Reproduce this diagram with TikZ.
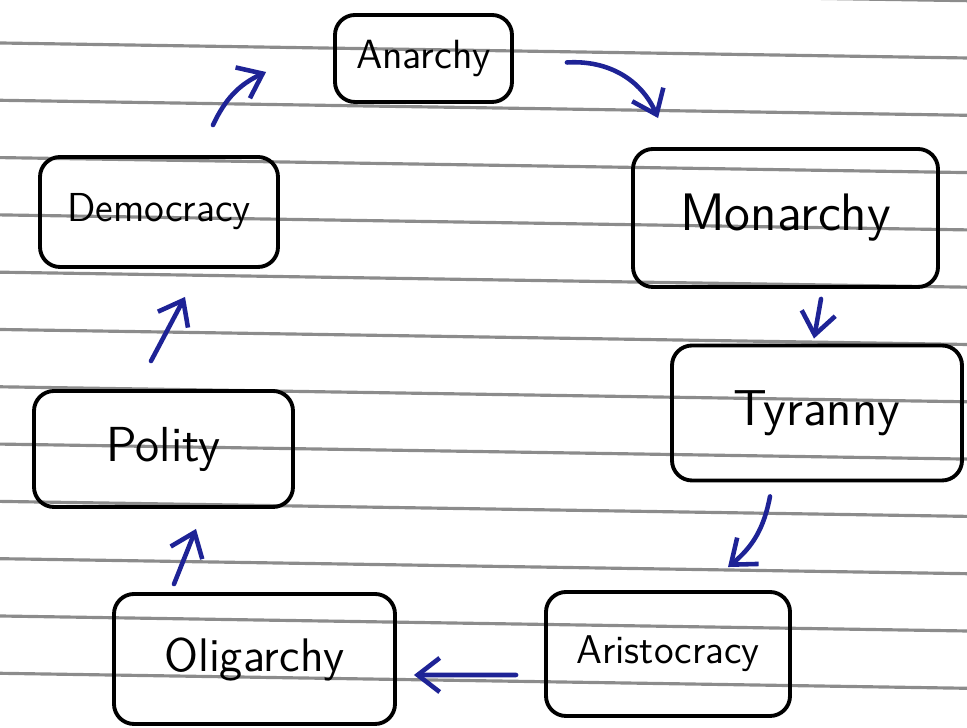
\documentclass[tikz,border=0pt]{standalone}
\usepackage{xcolor}
\usepackage{tikz}
\usetikzlibrary{arrows.meta}
\definecolor{inkblue}{HTML}{1E2396}
\definecolor{ruleline}{HTML}{8C8C8C}
\newcommand{\handsize}[1]{\fontsize{#1}{#1}\selectfont}

\begin{document}
\begin{tikzpicture}[
    box/.style={draw, line width=1.1pt, rounded corners=2mm, inner sep=0pt},
    flow/.style={inkblue, line width=1.3pt, line cap=round, -{Straight Barb[length=2.2mm, width=3.4mm]}},
    rule/.style={ruleline, line width=0.9pt},
  ]
  \useasboundingbox (0,0) rectangle (9.67,7.28);
  % ruled paper
  \begin{scope}
    \clip (0,0) rectangle (9.67,7.28);
    \foreach \k in {-1,...,12} {
      \draw[rule] (0,{6.85-0.573*(\k)}) -- (9.67,{6.70-0.573*(\k)});
    }
  \end{scope}
  % boxes
  \node[box, minimum width=1.77cm, minimum height=0.87cm, font=\sffamily\handsize{11.6}] (anarchy) at (4.235,6.695) {Anarchy};
  \node[box, minimum width=3.05cm, minimum height=1.38cm, font=\sffamily\handsize{15}] (monarchy) at (7.855,5.10) {Monarchy};
  \node[box, minimum width=2.90cm, minimum height=1.35cm, font=\sffamily\handsize{14.4}] (tyranny) at (8.17,3.15) {Tyranny};
  \node[box, minimum width=2.44cm, minimum height=1.24cm, font=\sffamily\handsize{11.4}] (aristocracy) at (6.68,0.74) {Aristocracy};
  \node[box, minimum width=2.81cm, minimum height=1.30cm, font=\sffamily\handsize{13.4}] (oligarchy) at (2.545,0.69) {Oligarchy};
  \node[box, minimum width=2.59cm, minimum height=1.16cm, font=\sffamily\handsize{14}] (polity) at (1.635,2.79) {Polity};
  \node[box, minimum width=2.38cm, minimum height=1.10cm, font=\sffamily\handsize{11.5}] (democracy) at (1.59,5.16) {Democracy};
  % cycle arrows
  \draw[flow] ([shift={(0.53,-0.04)}]anarchy.east) to[bend left=35] ([shift={(0.27,0.29)}]monarchy.north west);
  \draw[flow] ([shift={(0.355,-0.10)}]monarchy.south) -- ([shift={(-0.03,0.05)}]tyranny.north);
  \draw[flow] ([shift={(-0.47,-0.14)}]tyranny.south) to[bend left=20] ([shift={(0.60,0.23)}]aristocracy.north);
  \draw[flow] ([shift={(-0.28,-0.21)}]aristocracy.west) -- ([shift={(0.17,-0.16)}]oligarchy.east);
  \draw[flow] ([shift={(-0.805,0.08)}]oligarchy.north) -- ([shift={(0.325,-0.20)}]polity.south);
  \draw[flow] ([shift={(-0.125,0.28)}]polity.north) -- ([shift={(0.26,-0.28)}]democracy.south);
  \draw[flow] ([shift={(0.54,0.30)}]democracy.north) to[bend left=20] ([shift={(-0.67,-0.135)}]anarchy.west);
\end{tikzpicture}
\end{document}
